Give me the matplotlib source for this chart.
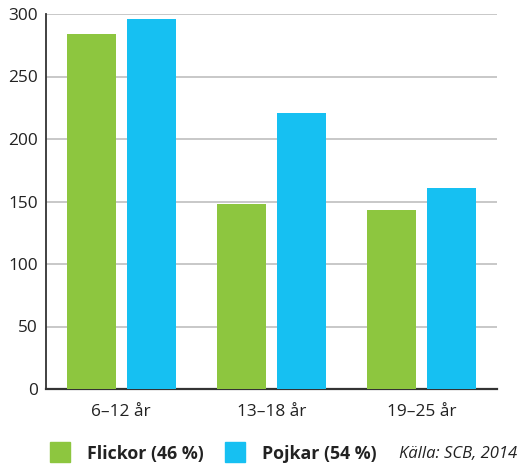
import matplotlib
matplotlib.use("Agg")
import matplotlib.pyplot as plt
from matplotlib.patches import Rectangle
import numpy as np

categories = ["6–12 år", "13–18 år", "19–25 år"]
flickor = [284, 148, 143]
pojkar = [296, 221, 161]
yticks = [0, 50, 100, 150, 200, 250, 300]
series_labels = ["Flickor (46 %)", "Pojkar (54 %)"]
source = "Källa: SCB, 2014"

green = "#8dc63f"
blue = "#16c0f2"

W, H = 521, 468
fig = plt.figure(figsize=(W/100, H/100), dpi=100)
ax = fig.add_axes([46/W, 1-389/H, (497-46)/W, (389-14)/H])

x = np.arange(len(categories))
bw = 0.327
ax.bar(x-0.2, flickor, bw, color=green, zorder=3)
ax.bar(x+0.2, pojkar, bw, color=blue, zorder=3)

ax.set_xlim(-0.5, 2.5)
ax.set_ylim(0, 300)
ax.set_yticks(yticks)
ax.set_xticks(x)
ax.set_xticklabels(categories)
ax.yaxis.grid(True, color="#c4c4c4", linewidth=1.3, zorder=0)
ax.set_axisbelow(True)
for s in ["top", "right"]:
    ax.spines[s].set_visible(False)
ax.spines["left"].set_color("#333333")
ax.spines["bottom"].set_color("#333333")
ax.spines["left"].set_linewidth(1.3)
ax.spines["bottom"].set_linewidth(1.6)
ax.tick_params(axis="both", length=0, labelsize=12.4, colors="#222222")
ax.tick_params(axis="x", pad=11)
ax.tick_params(axis="y", pad=6)
for lab in ax.get_xticklabels() + ax.get_yticklabels():
    lab.set_fontfamily("Open Sans")

# legend
fy = 1 - 454/H
fig.patches.append(Rectangle((50/W, 1-462/H), 20/W, 20/H, transform=fig.transFigure, color=green))
fig.patches.append(Rectangle((225/W, 1-462/H), 20/W, 20/H, transform=fig.transFigure, color=blue))
fig.text(87/W, fy, series_labels[0], fontsize=12.8, fontweight="bold", family="Open Sans",
         color="#222222", va="center", ha="left")
fig.text(262/W, fy, series_labels[1], fontsize=12.8, fontweight="bold", family="Open Sans",
         color="#222222", va="center", ha="left")
fig.text(517/W, fy, source, fontsize=12, style="italic", family="Open Sans",
         color="#222222", va="center", ha="right")

fig.savefig("out.png", dpi=100)
